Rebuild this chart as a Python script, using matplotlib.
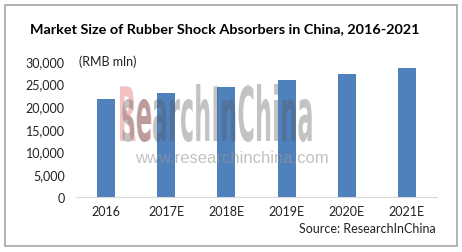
import matplotlib.pyplot as plt
from matplotlib.patches import Rectangle, PathPatch
from matplotlib.textpath import TextPath, TextToPath
from matplotlib.font_manager import FontProperties
from matplotlib.transforms import Affine2D, IdentityTransform

years = ['2016', '2017E', '2018E', '2019E', '2020E', '2021E']
market_size = [21500, 22800, 24100, 25700, 27000, 28350]
y_ticks = [0, 5000, 10000, 15000, 20000, 25000, 30000]

plt.rcParams['font.family'] = ['Lato', 'DejaVu Sans']

fig = plt.figure(figsize=(4.62, 2.53), dpi=100)
fig.patch.set_facecolor('white')

# grey frame round the whole picture
fig.add_artist(Rectangle((5 / 462, 6 / 253), 452 / 462, 241 / 253,
                         transform=fig.transFigure, fill=False,
                         edgecolor='#a6a6a6', linewidth=1.2))

ax = fig.add_axes([0.1645, 0.2186, 0.7814, 0.5375])
ax.bar(range(len(years)), market_size, width=0.3, color='#4f81bd', zorder=2)

ax.set_xlim(-0.5, len(years) - 0.5)
ax.set_ylim(0, 30000)
ax.set_xticks(range(len(years)))
ax.set_xticklabels(years, fontsize=9, color='#222222')
ax.set_yticks(y_ticks)
ax.set_yticklabels([f'{v:,}' for v in y_ticks], fontsize=9, color='#222222')
ax.tick_params(length=0, pad=6)
ax.tick_params(axis='y', pad=8)

for s in ['top', 'right', 'left']:
    ax.spines[s].set_visible(False)
ax.spines['bottom'].set_color('#d9d9d9')

fig.text(0.487, 0.885, 'Market Size of Rubber Shock Absorbers in China, 2016-2021',
         ha='center', va='center', fontsize=10.4, fontweight='bold')
fig.text(0.171, 0.755, '(RMB mln)', ha='left', va='center', fontsize=9,
         color='#222222')
fig.text(0.944, 0.095, 'Source: ResearchInChina', ha='right', va='center',
         fontsize=9, color='#222222')

# watermark, squeezed sideways to look like a condensed face
wm_prop = FontProperties(family='DejaVu Sans', weight='bold')
first, rest = 'Re', 'searchInChina'
p1 = TextPath((0, 0), first, size=100, prop=wm_prop)
w1, _, _ = TextToPath().get_text_width_height_descent(first, wm_prop, ismath=False)
p2 = TextPath((w1, 0), rest, size=100, prop=wm_prop)
full = TextPath((0, 0), first + rest, size=100, prop=wm_prop)
ext = full.get_extents()
x0, x1, y0, y1 = 120, 343, 110, 168
sx = (x1 - x0) / ext.width
sy = (y1 - y0) / ext.height
tr = Affine2D().translate(-ext.x0, -ext.y0).scale(sx, sy).translate(x0, y0)
for path, col, a in [(p1, '#e06666', 0.4), (p2, '#555555', 0.35)]:
    fig.add_artist(PathPatch(tr.transform_path(path), facecolor=col,
                             edgecolor='none', alpha=a,
                             transform=IdentityTransform(), zorder=5))
fig.text(0.502, 0.372, 'www.researchinchina.com', ha='center', va='center',
         fontsize=12, family='Liberation Sans', color='#999999', alpha=0.6,
         zorder=5)

fig.savefig('out.png', dpi=100)
